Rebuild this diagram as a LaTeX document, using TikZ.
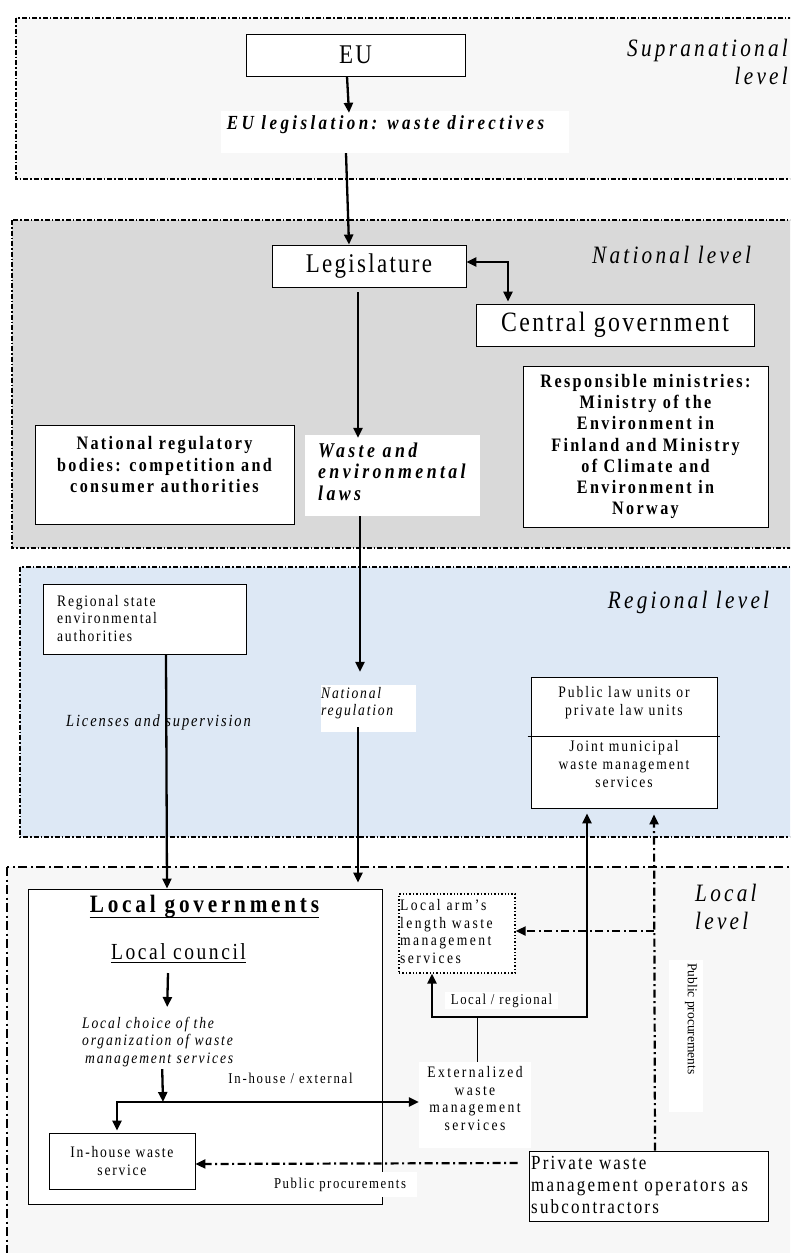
\documentclass[tikz,border=0pt]{standalone}
\usepackage{fontspec}
\setmainfont{Liberation Serif}[FakeStretch=0.85,LetterSpace=11]
\newfontfamily\plainf{Liberation Serif}
\usetikzlibrary{arrows.meta,calc}
\definecolor{supra}{RGB}{247,247,247}
\definecolor{natl}{RGB}{217,217,217}
\definecolor{regc}{RGB}{221,232,245}
\newcommand{\setfs}[2]{\fontsize{#1}{#2}\selectfont}
\newcommand{\lsp}[1]{\addfontfeature{LetterSpace=#1}}
\begin{document}
\begin{tikzpicture}[x=1pt,y=-1pt,
 panel/.style={draw=black, line width=1.2pt, dash pattern=on 5pt off 2pt on 1.5pt off 2pt},
 panelb/.style={draw=black, line width=1.7pt, dash pattern=on 9pt off 3.5pt on 2pt off 3.5pt},
 box/.style={draw=black, line width=0.9pt, fill=white, inner sep=0pt},
 wbox/.style={fill=white, inner sep=0pt},
 txt/.style={inner sep=0pt},
 tip/.style={-{Triangle[length=10pt,width=9pt]}},
 arr/.style={line width=2.3pt, tip},
 darr/.style={line width=2.2pt, dash pattern=on 8pt off 3.5pt on 2pt off 3.5pt, tip},
 lvl/.style={txt, font=\setfs{25}{28}\itshape\lsp{13}},
]
\useasboundingbox (0,0) rectangle (790,1253);
\clip (0,0) rectangle (790,1253);

% level panels
\path[panel, fill=supra] (16,18) rectangle (800,179);
\path[panel, fill=natl] (12,220) rectangle (800,548);
\path[panel, fill=regc] (20,567) rectangle (800,837);
\path[panelb, fill=supra] (7,867) rectangle (800,1290);

% level labels
\node[lvl, anchor=east, align=right] (lsupra) at (788,62) {Supranational\\level};
\node[lvl] (lnat) at (671.5,255) {National level};
\node[lvl] (lreg) at (688.5,602) {Regional level};
\node[lvl, anchor=west, align=left] (lloc) at (695,907) {Local\\level};

% supranational
\node[box, minimum width=219pt, minimum height=42pt, font=\setfs{27}{30}\lsp{8}] (eu) at (355.5,55) {EU};
\node[wbox, minimum width=348pt, minimum height=42pt] (eulaw) at (395,132) {};
\node[txt, font=\setfs{20}{22}\bfseries\itshape\lsp{17}] (eulawt) at (385.5,125) {EU legislation: waste directives};

% national
\node[box, minimum width=194pt, minimum height=42pt, font=\setfs{27}{30}\lsp{8.5}] (legis) at (369,266) {Legislature};
\node[box, minimum width=278pt, minimum height=42pt, font=\setfs{28}{32}\lsp{8.5}] (cgov) at (615,325) {Central government};
\node[box, minimum width=245pt, minimum height=161pt, align=center, font=\setfs{19}{21.3}\bfseries\lsp{12.5}] (mins) at (645.5,446.5)
  {Responsible ministries:\\Ministry of the\\Environment in\\Finland and Ministry\\of Climate and\\Environment in\\Norway};
\node[box, minimum width=259pt, minimum height=99pt] (nreg) at (164.5,474.5) {};
\node[txt, align=center, font=\setfs{19}{21.5}\bfseries\lsp{12.5}] (nregt) at (164.5,465) {National regulatory\\bodies: competition and\\consumer authorities};
\node[wbox, minimum width=175pt, minimum height=81pt] (wlaws) at (392.5,475.5) {};
\node[txt, anchor=west, align=left, font=\setfs{21}{21.5}\bfseries\itshape\lsp{16}] (wlawst) at (318,471.5) {Waste and\\environmental\\laws};

% regional
\node[box, minimum width=203pt, minimum height=70pt] (rstate) at (144.5,619) {};
\node[txt, anchor=west, align=left, font=\setfs{16}{17.5}] (rstatet) at (57,618.5) {Regional state\\environmental\\authorities};
\node[txt, font=\setfs{17}{19}\itshape] (lic) at (158.5,722) {Licenses and supervision};
\node[wbox, minimum width=95pt, minimum height=47pt] (nregu) at (368.5,708.5) {};
\node[txt, anchor=west, align=left, font=\setfs{16}{17}\itshape] (nregut) at (321,703.5) {National\\regulation};
\node[box, minimum width=186pt, minimum height=131pt] (plaw) at (624,742.5) {};
\draw[line width=0.9pt] ($(plaw.west)+(-3,-6.5)$) -- ($(plaw.east)+(3,-6.5)$);
\node[txt, align=center, font=\setfs{16}{18}\lsp{12}] (plawt1) at (624,702.5) {Public law units or\\private law units};
\node[txt, align=center, font=\setfs{16}{18}\lsp{12}] (plawt2) at (624,764) {Joint municipal\\waste management\\services};

% local
\node[box, minimum width=354pt, minimum height=315pt] (lgov) at (205,1046.5) {};
\node[txt, anchor=base, font=\setfs{25}{28}\bfseries\lsp{15}] (lgt) at (204.5,912.7) {Local governments};
\draw[line width=1.4pt] ([yshift=-4.5]lgt.base west) -- ([yshift=-4.5]lgt.base east);
\node[txt, anchor=base, font=\setfs{23}{27}] (lcl) at (178.5,959.3) {Local council};
\draw[line width=1.1pt] ([yshift=-3.5]lcl.base west) -- ([yshift=-3.5]lcl.base east);
\node[txt, anchor=north west, text width=165pt, align=left, font=\setfs{16}{17.5}\itshape\lsp{11.5}] (choice) at (82,1017)
  {Local choice of the\\organization of waste\\\hspace*{3pt}management services};
\node[txt, font=\setfs{15}{16}\lsp{12}] (inext) at (290.5,1078) {In-house / external};
\node[box, minimum width=146pt, minimum height=56pt, align=center, font=\setfs{16}{18}] (inh) at (122,1161) {In-house waste\\service};
\node[draw=black, dotted, line width=1.4pt, fill=white, minimum width=116pt, minimum height=79pt, inner sep=0pt] (larm) at (457,933.5) {};
\node[txt, anchor=west, align=left, font=\setfs{16}{17.7}\lsp{15}] (larmt) at (400,931.5) {Local arm’s\\length waste\\management\\services};
\node[wbox, minimum width=112pt, minimum height=86pt] (ext) at (475,1105) {};
\node[txt, align=center, font=\setfs{16}{17.7}\lsp{15}] (extt) at (475,1098.5) {Externalized\\waste\\management\\services};
\node[box, minimum width=239pt, minimum height=70pt] (priv) at (648.5,1186) {};
\node[txt, anchor=west, align=left, font=\setfs{20}{22}] (privt) at (531,1185) {Private waste\\management operators as\\subcontractors};

% arrows: supranational / national
\draw[arr] ([xshift=-8.5]eu.south) -- ([xshift=-46,yshift=-2]eulaw.north);
\draw[arr] ([xshift=-49]eulaw.south) -- ([xshift=-20]legis.north);
\draw[line width=2.3pt, {Triangle[length=10pt,width=9pt]}-{Triangle[length=10pt,width=9pt]}] ([yshift=4]legis.east) -| ([xshift=-107,yshift=2]cgov.north);
\draw[arr] ([xshift=-11,yshift=-5]legis.south) -- ([xshift=-34.5,yshift=-3]wlaws.north);
\draw[arr] ([xshift=-32.5]wlaws.south) -- ([xshift=-8.5,yshift=13]nregu.north);

% arrows: regional to local
\draw[arr] ([xshift=21.5]rstate.south) -- ([xshift=-38]lgov.north);
\draw[arr] ([xshift=-10.5,yshift=5]nregu.south) -- ([xshift=153,yshift=6]lgov.north);

% arrows inside local governments
\coordinate (jn) at (163,1102);
\draw[arr] ([xshift=-10.5,yshift=-13.7]lcl.base) -- ([xshift=2.5,yshift=10]choice.north);
\draw[arr] ([xshift=-2.5,yshift=-2]choice.south) -- (jn);
\draw[arr] (jn) -| ([xshift=-5,yshift=2]inh.north);
\draw[arr] (jn) -- (ext.west |- jn);

% local / regional routes
\coordinate (lrj) at (477,1017);
\draw[line width=0.9pt] ([xshift=2]ext.north) -- (lrj);
\draw[arr, line width=2.4pt] (lrj) -| ([xshift=-25]larm.south);
\draw[arr, line width=2.6pt] (lrj) -| ([xshift=-37,yshift=-5]plaw.south);
\node[wbox, minimum width=113pt, minimum height=17pt, font=\setfs{15}{16}\lsp{10.5}] (lrlab) at (501.5,1000.5) {Local / regional};

% public procurements (dash-dot)
\coordinate (pb) at (654,931);
\draw[darr] ([xshift=6.5]priv.north) -- ([xshift=30,yshift=-6]plaw.south);
\draw[darr] (pb) -- ([yshift=2.5]larm.east);
\draw[darr] ([xshift=-11,yshift=23]priv.west) -- ([yshift=-3]inh.east);
\node[wbox, minimum width=34pt, minimum height=152pt] (pp2) at (686,1036) {};
\node[txt, rotate=-90, font=\plainf\setfs{13.5}{16}] (pp2t) at (691,1019) {Public procurements};
\node[wbox, minimum width=154pt, minimum height=25pt, font=\setfs{15}{16}\lsp{10.5}] (pp1) at (340,1184.5) {Public procurements};
\end{tikzpicture}
\end{document}
